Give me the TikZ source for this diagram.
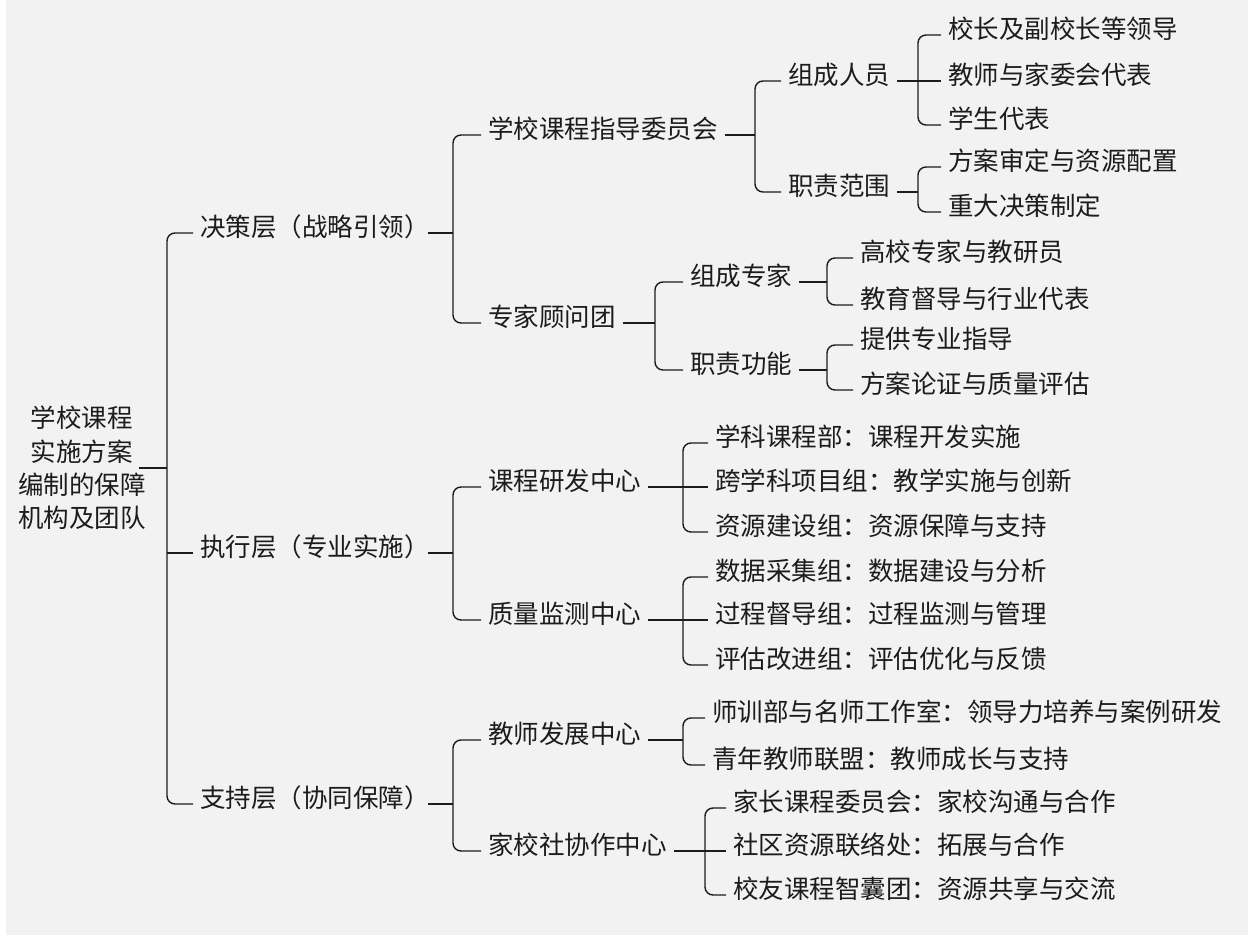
\documentclass[tikz,border=0pt]{standalone}
\usepackage{fontspec}
\newfontfamily\cjk{Noto Sans CJK SC}
\definecolor{bg}{HTML}{F2F2F2}
\definecolor{ink}{HTML}{1C1C1C}
\begin{document}
\begin{tikzpicture}[x=1pt,y=-1pt,
  lbl/.style={font=\cjk\fontsize{25.5}{33.3}\selectfont, text=ink, anchor=west,
    inner xsep=7pt, inner ysep=0pt, text height=0.88em, text depth=0.12em},
  rootlbl/.style={font=\cjk\fontsize{25.5}{33.3}\selectfont, text=ink, align=center, inner sep=0pt},
  link/.style={line width=1.4pt, draw=ink},
  brk/.style={link, rounded corners=8pt}]
\useasboundingbox (0,0) rectangle (1248,936);
\fill[white] (0,0) rectangle (1248,936);
\fill[bg] (6,0) rectangle (1248,935);

% bar coordinates
\coordinate (b1) at (167,0);
\coordinate (b2) at (453,0);
\coordinate (b3a) at (755,0);
\coordinate (b4a) at (918,0);
\coordinate (b3b) at (655,0);
\coordinate (b4b) at (827,0);
\coordinate (b3c) at (683,0);
\coordinate (b3d) at (705,0);

% root
\node[rootlbl] (root) at (82,468) {学校课程\\实施方案\\编制的保障\\机构及团队};

% level 1
\node[lbl] (jc) at (193,233) {决策层（战略引领）};
\node[lbl] (zx) at (193,553) {执行层（专业实施）};
\node[lbl] (zc) at (193,804) {支持层（协同保障）};

% level 2
\node[lbl] (xw) at (481,135) {学校课程指导委员会};
\node[lbl] (zj) at (481,323) {专家顾问团};
\node[lbl] (kc) at (481,487) {课程研发中心};
\node[lbl] (zl) at (481,620) {质量监测中心};
\node[lbl] (js) at (481,740) {教师发展中心};
\node[lbl] (jx) at (481,851) {家校社协作中心};

% level 3
\node[lbl] (zr) at (781,81) {组成人员};
\node[lbl] (zf) at (781,192) {职责范围};
\node[lbl] (zcj) at (683,282) {组成专家};
\node[lbl] (zn) at (683,370) {职责功能};

% level 4
\node[lbl] (a1) at (941,35) {校长及副校长等领导};
\node[lbl] (a2) at (941,81) {教师与家委会代表};
\node[lbl] (a3) at (941,125) {学生代表};
\node[lbl] (a4) at (941,167) {方案审定与资源配置};
\node[lbl] (a5) at (941,212) {重大决策制定};
\node[lbl] (a6) at (853,258) {高校专家与教研员};
\node[lbl] (a7) at (853,305) {教育督导与行业代表};
\node[lbl] (a8) at (853,345) {提供专业指导};
\node[lbl] (a9) at (853,390) {方案论证与质量评估};
\node[lbl] (c1) at (708,443) {学科课程部：课程开发实施};
\node[lbl] (c2) at (708,487) {跨学科项目组：教学实施与创新};
\node[lbl] (c3) at (708,532) {资源建设组：资源保障与支持};
\node[lbl] (c4) at (708,577) {数据采集组：数据建设与分析};
\node[lbl] (c5) at (708,620) {过程督导组：过程监测与管理};
\node[lbl] (c6) at (708,665) {评估改进组：评估优化与反馈};
\node[lbl] (d1) at (705,718) {师训部与名师工作室：领导力培养与案例研发};
\node[lbl] (d2) at (705,765) {青年教师联盟：教师成长与支持};
\node[lbl] (d3) at (726,808) {家长课程委员会：家校沟通与合作};
\node[lbl] (d4) at (726,851) {社区资源联络处：拓展与合作};
\node[lbl] (d5) at (726,895) {校友课程智囊团：资源共享与交流};

% root -> level 1
\draw[link] ([xshift=-7pt]root.east) -- (b1 |- root.east);
\draw[brk] (jc.west) -| (b1 |- zc.west) -- (zc.west);
\draw[link] (b1 |- zx.west) -- (zx.west);

% level 1 -> level 2
\draw[link] ([xshift=-9pt]jc.east) -- (b2 |- jc.east);
\draw[brk] (xw.west) -| (b2 |- zj.west) -- (zj.west);
\draw[link] ([xshift=-9pt]zx.east) -- (b2 |- zx.east);
\draw[brk] (kc.west) -| (b2 |- zl.west) -- (zl.west);
\draw[link] ([xshift=-9pt]zc.east) -- (b2 |- zc.east);
\draw[brk] (js.west) -| (b2 |- jx.west) -- (jx.west);

% level 2 -> level 3 / 4
\draw[link] (xw.east) -- (b3a |- xw.east);
\draw[brk] (zr.west) -| (b3a |- zf.west) -- (zf.west);
\draw[link] (zj.east) -- (b3b |- zj.east);
\draw[brk] (zcj.west) -| (b3b |- zn.west) -- (zn.west);
\draw[link] (kc.east) -- (b3c |- kc.east);
\draw[brk] (c1.west) -| (b3c |- c3.west) -- (c3.west);
\draw[link] (b3c |- c2.west) -- (c2.west);
\draw[link] (zl.east) -- (b3c |- zl.east);
\draw[brk] (c4.west) -| (b3c |- c6.west) -- (c6.west);
\draw[link] (b3c |- c5.west) -- (c5.west);
\draw[link] (js.east) -- (b3c |- js.east);
\draw[brk] (d1.west) -| (b3c |- d2.west) -- (d2.west);
\draw[link] (jx.east) -- (b3d |- jx.east);
\draw[brk] (d3.west) -| (b3d |- d5.west) -- (d5.west);
\draw[link] (b3d |- d4.west) -- (d4.west);

% level 3 -> level 4
\draw[link] (zr.east) -- (b4a |- zr.east);
\draw[brk] (a1.west) -| (b4a |- a3.west) -- (a3.west);
\draw[link] (b4a |- a2.west) -- (a2.west);
\draw[link] (zf.east) -- (b4a |- zf.east);
\draw[brk] (a4.west) -| (b4a |- a5.west) -- (a5.west);
\draw[link] (zcj.east) -- (b4b |- zcj.east);
\draw[brk] (a6.west) -| (b4b |- a7.west) -- (a7.west);
\draw[link] (zn.east) -- (b4b |- zn.east);
\draw[brk] (a8.west) -| (b4b |- a9.west) -- (a9.west);
\end{tikzpicture}
\end{document}
